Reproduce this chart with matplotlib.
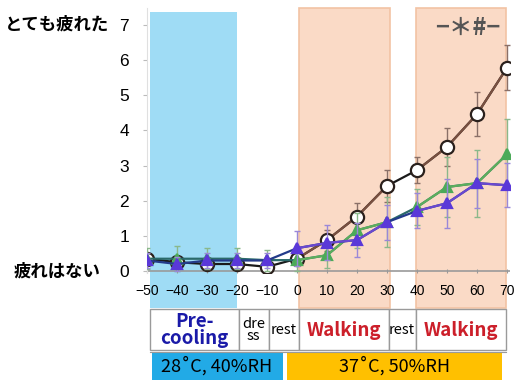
import matplotlib.pyplot as plt
from matplotlib.patches import Rectangle
import matplotlib.transforms as mtransforms

plt.rcParams['font.family'] = ['Liberation Sans', 'Noto Sans CJK JP', 'DejaVu Sans']

# --- data ---
minutes = [-50, -40, -30, -20, -10, 0, 10, 20, 30, 40, 50, 60, 70]
circle = [0.35, 0.25, 0.2, 0.2, 0.12, 0.35, 0.88, 1.55, 2.42, 2.87, 3.53, 4.46, 5.78]
circle_err = [0.1, 0.1, 0.1, 0.1, 0.1, 0.15, 0.3, 0.38, 0.45, 0.37, 0.53, 0.62, 0.64]
green = [0.35, 0.35, 0.35, 0.35, 0.31, 0.31, 0.45, 1.16, 1.39, 1.82, 2.39, 2.5, 3.32]
green_err = [0.3, 0.35, 0.3, 0.3, 0.3, 0.3, 0.35, 0.5, 0.72, 0.5, 0.85, 0.95, 1.0]
purple = [0.3, 0.2, 0.3, 0.3, 0.3, 0.65, 0.8, 0.88, 1.39, 1.71, 1.93, 2.5, 2.44]
purple_err = [0.2, 0.2, 0.2, 0.2, 0.2, 0.5, 0.5, 0.48, 0.5, 0.5, 0.7, 0.7, 0.62]

xticks = [-50, -40, -30, -20, -10, 0, 10, 20, 30, 40, 50, 60, 70]
yticks = [0, 1, 2, 3, 4, 5, 6, 7]

# phase table
phase_labels = ['Pre-\ncooling', 'dre\nss', 'rest', 'Walking', 'rest', 'Walking']
phase_colors = ['#1a1aa8', 'black', 'black', '#cc1f2a', 'black', '#cc1f2a']
phase_edges = [-49, -19.5, -9.5, 0.5, 30.5, 39.5, 69.5]
cond_labels = ['28˚C, 40%RH', '37˚C, 50%RH']
cond_spans = [(-48.5, -4.8), (-3.3, 68.2)]
cond_colors = ['#22aae6', '#ffc000']

W, H = 514, 387
fig = plt.figure(figsize=(W / 100, H / 100), dpi=100)
left, right, top, bottom = 147, 510, 8, 272.8
ax = fig.add_axes([left / W, 1 - bottom / H, (right - left) / W, (bottom - top) / H])
ax.set_xlim(-50, 71)
ax.set_ylim(-0.05, 7.48)

# shaded periods (extend below the axis behind the tick labels)
ymin_ext = -(308 - bottom) / (bottom - top)
ax.axvspan(-49, -20, ymin=ymin_ext, ymax=0.985, color='#9fdcf5', clip_on=False, zorder=0, lw=0)
for a, b in [(0.5, 31), (39.5, 69.5)]:
    ax.axvspan(a, b, ymin=ymin_ext, ymax=1.0, facecolor='#fadac6', edgecolor='#f2c3a4',
               lw=1.2, clip_on=False, zorder=0)

ax.axhline(0, color='#9a9a9a', lw=1.2, zorder=1)

walk = [(5, 9), (9, 13)]  # index ranges of walking segments


def draw(vals, errs, dark, light, ecolor, marker, ms, mfc, mec, z):
    ax.errorbar(minutes, vals, yerr=errs, fmt='none', ecolor=ecolor, elinewidth=1,
                capsize=2, capthick=1, zorder=z)
    ax.plot(minutes, vals, color=dark, lw=1.6, zorder=z)
    for i0, i1 in walk:
        ax.plot(minutes[i0:i1], vals[i0:i1], color=light, lw=1.6, zorder=z + 0.1)
    ax.plot(minutes, vals, ls='none', marker=marker, ms=ms, mfc=mfc, mec=mec,
            mew=1.6, zorder=z + 0.2)


draw(circle, circle_err, '#1a1a1a', '#7a5040', '#8a7068', 'o', 9.5, 'white', '#2a201c', 3)
draw(green, green_err, '#2b6a6a', '#5cae5c', '#8ab88a', '^', 7, '#4caa58', '#4caa58', 4)
draw(purple, purple_err, '#233a8a', '#6a48d0', '#9a88d8', '^', 7, '#5a38d8', '#5a38d8', 5)

ax.set_xticks(xticks)
ax.set_yticks(yticks)
ax.tick_params(axis='x', direction='in', length=3, color='#999999', labelsize=10, pad=8)
ax.tick_params(axis='y', direction='out', length=3, color='#bbbbbb', labelsize=12.5, pad=10)
for s in ['top', 'right', 'bottom']:
    ax.spines[s].set_visible(False)
ax.spines['left'].set_color('#e0e0e0')

trans = mtransforms.blended_transform_factory(ax.transAxes, ax.transData)
jp = ['Noto Sans CJK JP', 'DejaVu Sans']
ax.text(-0.105, 7, 'とても疲れた', transform=trans, ha='right', va='center',
        fontsize=12.5, fontweight='bold', family=jp)
ax.text(-0.128, 0, '疲れはない', transform=trans, ha='right', va='center',
        fontsize=12.5, fontweight='bold', family=jp)
ax.text(57, 6.92, '−＊#−', ha='center', va='center', fontsize=17, color='#555555',
        fontweight='bold', family=jp)

# phase / condition table below the chart
tab = fig.add_axes([left / W, 1 - 386 / H, (right - left) / W, (386 - 308) / H])
tab.set_xlim(-50, 71)
tab.set_ylim(78, 0)
tab.axis('off')
for i, lab in enumerate(phase_labels):
    a, b = phase_edges[i], phase_edges[i + 1]
    tab.add_patch(Rectangle((a, 1), b - a, 41, facecolor='white', edgecolor='#9a9a9a', lw=1))
    big = lab == 'Walking' or lab.startswith('Pre')
    tab.text((a + b) / 2, 22, lab, ha='center', va='center', color=phase_colors[i],
             fontsize=13.5 if big else 10.5, fontweight='bold' if big else 'normal',
             linespacing=0.85, family=jp)
for (a, b), lab, c in zip(cond_spans, cond_labels, cond_colors):
    tab.add_patch(Rectangle((a, 44), b - a, 28, facecolor=c, edgecolor='none'))
    tab.text((a + b) / 2, 58, lab, ha='center', va='center', fontsize=13, family=jp)
tab.plot([-49, 69.5], [44, 44], color='#9a9a9a', lw=0.8)

fig.savefig('out.png', dpi=100)
